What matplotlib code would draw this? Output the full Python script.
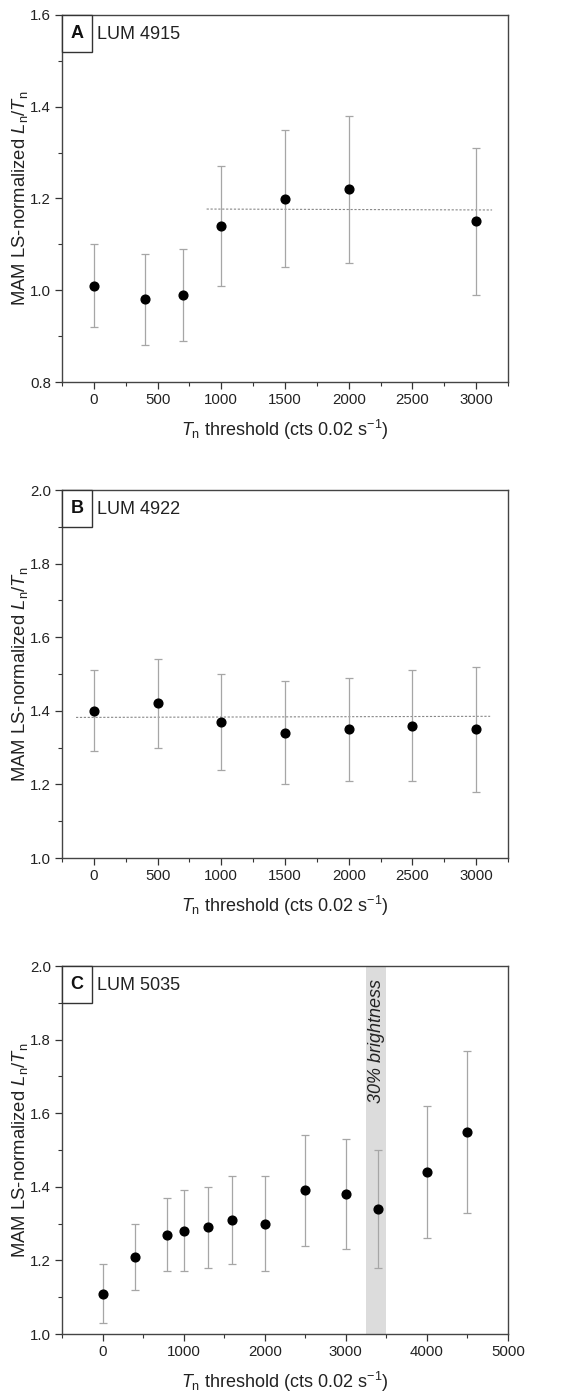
import matplotlib
matplotlib.use("Agg")
import matplotlib.pyplot as plt
from matplotlib.patches import Rectangle
from matplotlib.ticker import MultipleLocator, FormatStrFormatter

plt.rcParams['font.family'] = ['Liberation Sans', 'DejaVu Sans']
plt.rcParams['mathtext.fontset'] = 'custom'
plt.rcParams['mathtext.rm'] = 'Liberation Sans'
plt.rcParams['mathtext.it'] = 'Liberation Sans:italic'
plt.rcParams['mathtext.bf'] = 'Liberation Sans:bold'

# Panel A: LUM 4915
a_x = [0, 400, 700, 1000, 1500, 2000, 3000]
a_y = [1.01, 0.98, 0.99, 1.14, 1.20, 1.22, 1.15]
a_lo = [0.92, 0.88, 0.89, 1.01, 1.05, 1.06, 0.99]
a_hi = [1.10, 1.08, 1.09, 1.27, 1.35, 1.38, 1.31]
a_line_x = [885, 3125]
a_line_y = [1.177, 1.175]

# Panel B: LUM 4922
b_x = [0, 500, 1000, 1500, 2000, 2500, 3000]
b_y = [1.40, 1.42, 1.37, 1.34, 1.35, 1.36, 1.35]
b_lo = [1.29, 1.30, 1.24, 1.20, 1.21, 1.21, 1.18]
b_hi = [1.51, 1.54, 1.50, 1.48, 1.49, 1.51, 1.52]
b_line_x = [-140, 3110]
b_line_y = [1.382, 1.385]

# Panel C: LUM 5035
c_x = [0, 400, 800, 1000, 1300, 1600, 2000, 2500, 3000, 3400, 4000, 4500]
c_y = [1.11, 1.21, 1.27, 1.28, 1.29, 1.31, 1.30, 1.39, 1.38, 1.34, 1.44, 1.55]
c_lo = [1.03, 1.12, 1.17, 1.17, 1.18, 1.19, 1.17, 1.24, 1.23, 1.18, 1.26, 1.33]
c_hi = [1.19, 1.30, 1.37, 1.39, 1.40, 1.43, 1.43, 1.54, 1.53, 1.50, 1.62, 1.77]
c_band = [3250, 3500]

fig = plt.figure(figsize=(5.87, 13.96), dpi=100)
L, W = 62/587, 446/587
axA = fig.add_axes([L, 1-382/1396, W, 367/1396])
axB = fig.add_axes([L, 1-858/1396, W, 368/1396])
axC = fig.add_axes([L, 1-1334/1396, W, 368/1396])

xlab = r'$T_\mathrm{n}$ threshold (cts 0.02 s$^{-1}$)'
ylab = r'MAM LS-normalized $L_\mathrm{n}/T_\mathrm{n}$'

def draw(ax, x, y, lo, hi, letter, name, xlim, ylim, xmaj, xmin_):
    yerr = [[yy - l for yy, l in zip(y, lo)], [h - yy for yy, h in zip(y, hi)]]
    ax.errorbar(x, y, yerr=yerr, fmt='none', ecolor='#a6a6a6', elinewidth=0.9,
                capsize=3, capthick=0.9, zorder=2)
    ax.plot(x, y, 'o', color='black', markersize=6.3, zorder=3)
    ax.set_xlim(*xlim)
    ax.set_ylim(*ylim)
    ax.xaxis.set_major_locator(MultipleLocator(xmaj))
    ax.xaxis.set_minor_locator(MultipleLocator(xmin_))
    ax.yaxis.set_major_locator(MultipleLocator(0.2))
    ax.yaxis.set_minor_locator(MultipleLocator(0.1))
    ax.yaxis.set_major_formatter(FormatStrFormatter('%.1f'))
    ax.tick_params(which='major', direction='out', length=5, width=0.9, labelsize=10.8,
                   colors='#333333', labelcolor='#222222', pad=3)
    ax.tick_params(which='minor', direction='out', length=3, width=0.8, colors='#333333')
    for s in ax.spines.values():
        s.set_color('#444444')
        s.set_linewidth(1.0)
    ax.set_xlabel(xlab, fontsize=13, color='#222222', labelpad=8)
    ax.set_ylabel(ylab, fontsize=13.3, color='#222222')
    ax.yaxis.set_label_coords(-0.072, 0.5)
    ax.add_patch(Rectangle((0, 0.899), 0.067, 0.101, transform=ax.transAxes,
                           facecolor='white', edgecolor='#333333', lw=1.0, zorder=5, clip_on=False))
    ax.text(0.0335, 0.9495, letter, transform=ax.transAxes, ha='center', va='center',
            fontsize=13, fontweight='bold', color='#111111', zorder=6)
    ax.text(0.079, 0.946, name, transform=ax.transAxes, ha='left', va='center',
            fontsize=13, color='#222222', zorder=6)

draw(axA, a_x, a_y, a_lo, a_hi, 'A', 'LUM 4915', (-250, 3250), (0.8, 1.6), 500, 250)
axA.plot(a_line_x, a_line_y, linestyle=(0, (2, 1.5)), color='#888888', lw=0.8, zorder=1)

draw(axB, b_x, b_y, b_lo, b_hi, 'B', 'LUM 4922', (-250, 3250), (1.0, 2.0), 500, 250)
axB.plot(b_line_x, b_line_y, linestyle=(0, (2, 1.5)), color='#888888', lw=0.8, zorder=1)

draw(axC, c_x, c_y, c_lo, c_hi, 'C', 'LUM 5035', (-500, 5000), (1.0, 2.0), 1000, 500)
axC.axvspan(c_band[0], c_band[1], color='#dcdcdc', lw=0, zorder=0)
axC.text(sum(c_band)/2, 1.965, '30% brightness', rotation=90, ha='center', va='top',
         fontsize=13, style='italic', color='#222222', zorder=4)

fig.savefig('out.png', dpi=100)
